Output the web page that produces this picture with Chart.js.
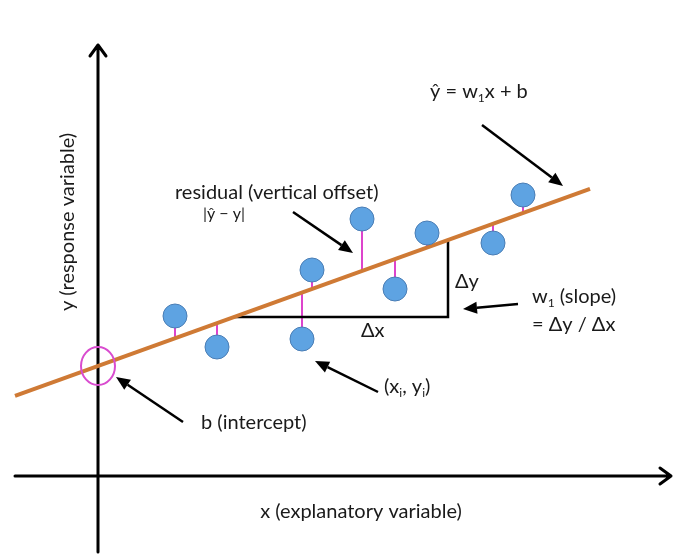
<!DOCTYPE html>
<html>
<head>
<meta charset="utf-8">
<script src="https://cdn.jsdelivr.net/npm/chart.js@4.4.0/dist/chart.umd.min.js"></script>
<style>
  html, body { margin: 0; padding: 0; background: #fff; }
  canvas { display: block; }
</style>
</head>
<body>
<canvas id="regChart" width="684" height="556"></canvas>
<script>
// observations (x, y) in diagram units, origin where the axes cross
const pointX = [7.7, 11.9, 20.4, 21.4, 26.4, 29.7, 32.9, 39.5, 42.5];
const pointY = [16.0, 12.9, 13.7, 20.6, 25.7, 18.7, 24.3, 23.3, 28.1];

// fitted line y = w1 * x + b
const intercept = 11.0;
const slope = 0.36;
const lineRange = [-8.3, 49.2];
const triangleRange = [13.6, 35.0];

// axis extents
const xAxisRange = [-8.3, 57.3];
const yAxisRange = [-7.6, 43.1];

const fit = x => intercept + slope * x;

const FONT = 'Lato, "Open Sans", sans-serif';
const INK = '#1a1a1a';

const points = pointX.map((x, i) => ({ x: x, y: pointY[i] }));

const residualSets = points.map(p => ({
  data: [{ x: p.x, y: p.y }, { x: p.x, y: fit(p.x) }],
  showLine: true,
  borderColor: '#dd44cc',
  borderWidth: 2,
  pointRadius: 0
}));

// draws a string made of normal and subscript pieces
function richText(ctx, parts, x, y, size) {
  let cx = x;
  parts.forEach(p => {
    if (p.sub) {
      ctx.font = Math.round(size * 0.6) + 'px ' + FONT;
      ctx.fillText(p.t, cx, y + size * 0.2);
    } else {
      ctx.font = size + 'px ' + FONT;
      ctx.fillText(p.t, cx, y);
    }
    cx += ctx.measureText(p.t).width;
  });
}

function arrow(ctx, x1, y1, x2, y2) {
  const a = Math.atan2(y2 - y1, x2 - x1);
  const len = 14, half = 6;
  const bx = x2 - len * Math.cos(a), by = y2 - len * Math.sin(a);
  ctx.beginPath();
  ctx.moveTo(x1, y1);
  ctx.lineTo(bx, by);
  ctx.strokeStyle = '#000';
  ctx.lineWidth = 2.5;
  ctx.stroke();
  ctx.beginPath();
  ctx.moveTo(x2, y2);
  ctx.lineTo(bx + half * Math.sin(a), by - half * Math.cos(a));
  ctx.lineTo(bx - half * Math.sin(a), by + half * Math.cos(a));
  ctx.closePath();
  ctx.fillStyle = '#000';
  ctx.fill();
}

const axesPlugin = {
  id: 'axesPlugin',
  beforeDatasetsDraw(chart) {
    const ctx = chart.ctx;
    const xs = chart.scales.x, ys = chart.scales.y;
    const x0 = xs.getPixelForValue(0), y0 = ys.getPixelForValue(0);
    const xl = xs.getPixelForValue(xAxisRange[0]), xr = xs.getPixelForValue(xAxisRange[1]);
    const yb = ys.getPixelForValue(yAxisRange[0]), yt = ys.getPixelForValue(yAxisRange[1]);
    ctx.save();
    ctx.strokeStyle = '#000';
    ctx.lineWidth = 3;
    ctx.lineCap = 'round';
    ctx.lineJoin = 'round';
    ctx.beginPath();
    ctx.moveTo(xl, y0); ctx.lineTo(xr, y0);
    ctx.moveTo(xr - 11, y0 - 8); ctx.lineTo(xr, y0); ctx.lineTo(xr - 11, y0 + 8);
    ctx.moveTo(x0, yb); ctx.lineTo(x0, yt);
    ctx.moveTo(x0 - 8, yt + 11); ctx.lineTo(x0, yt); ctx.lineTo(x0 + 8, yt + 11);
    ctx.stroke();
    ctx.restore();
  },
  afterDatasetsDraw(chart) {
    const ctx = chart.ctx;
    const xs = chart.scales.x, ys = chart.scales.y;
    ctx.save();

    // intercept marker
    ctx.beginPath();
    ctx.ellipse(xs.getPixelForValue(0), ys.getPixelForValue(intercept), 17, 19, 0, 0, Math.PI * 2);
    ctx.strokeStyle = '#d94ccf';
    ctx.lineWidth = 2;
    ctx.stroke();

    ctx.fillStyle = INK;
    ctx.textBaseline = 'alphabetic';
    ctx.textAlign = 'left';

    richText(ctx, [{ t: 'ŷ = w' }, { t: '1', sub: true }, { t: 'x + b' }], 430, 98, 20);
    richText(ctx, [{ t: 'residual (vertical offset)' }], 175, 199, 20);
    richText(ctx, [{ t: '|ŷ − y|' }], 203, 219, 16);
    richText(ctx, [{ t: 'Δy' }], 455, 288, 20);
    richText(ctx, [{ t: 'Δx' }], 361, 337, 20);
    richText(ctx, [{ t: 'w' }, { t: '1', sub: true }, { t: ' (slope)' }], 532, 303, 20);
    richText(ctx, [{ t: '= Δy / Δx' }], 532, 331, 20);
    richText(ctx, [{ t: '(x' }, { t: 'i', sub: true }, { t: ', y' }, { t: 'i', sub: true }, { t: ')' }], 384, 393, 20);
    richText(ctx, [{ t: 'b (intercept)' }], 201, 429, 20);

    ctx.font = '20px ' + FONT;
    ctx.textAlign = 'center';
    ctx.fillText('x (explanatory variable)', 361, 518);
    ctx.translate(74, 222);
    ctx.rotate(-Math.PI / 2);
    ctx.fillText('y (response variable)', 0, 0);
    ctx.setTransform(1, 0, 0, 1, 0, 0);

    arrow(ctx, 482, 125, 563, 186);
    arrow(ctx, 293, 212, 353, 253);
    arrow(ctx, 518, 304, 463, 309);
    arrow(ctx, 378, 392, 315, 361);
    arrow(ctx, 183, 422, 116, 377);

    ctx.restore();
  }
};

new Chart(document.getElementById('regChart'), {
  type: 'scatter',
  data: {
    datasets: [
      {
        data: points,
        pointRadius: 12,
        pointBackgroundColor: '#5ea3e2',
        pointBorderColor: '#4a7db4',
        pointBorderWidth: 1
      },
      {
        data: lineRange.map(x => ({ x: x, y: fit(x) })),
        showLine: true,
        borderColor: '#cf7a35',
        borderWidth: 4,
        pointRadius: 0
      },
      {
        data: [
          { x: triangleRange[0], y: fit(triangleRange[0]) },
          { x: triangleRange[1], y: fit(triangleRange[0]) },
          { x: triangleRange[1], y: fit(triangleRange[1]) }
        ],
        showLine: true,
        borderColor: '#000',
        borderWidth: 2.5,
        pointRadius: 0
      },
      ...residualSets
    ]
  },
  options: {
    responsive: false,
    animation: false,
    events: [],
    layout: { padding: 0, autoPadding: false },
    plugins: { legend: { display: false }, tooltip: { enabled: false } },
    scales: {
      x: { type: 'linear', min: -9.8, max: 58.6, display: false },
      y: { type: 'linear', min: -8.0, max: 47.6, display: false }
    }
  },
  plugins: [axesPlugin]
});
</script>
</body>
</html>
